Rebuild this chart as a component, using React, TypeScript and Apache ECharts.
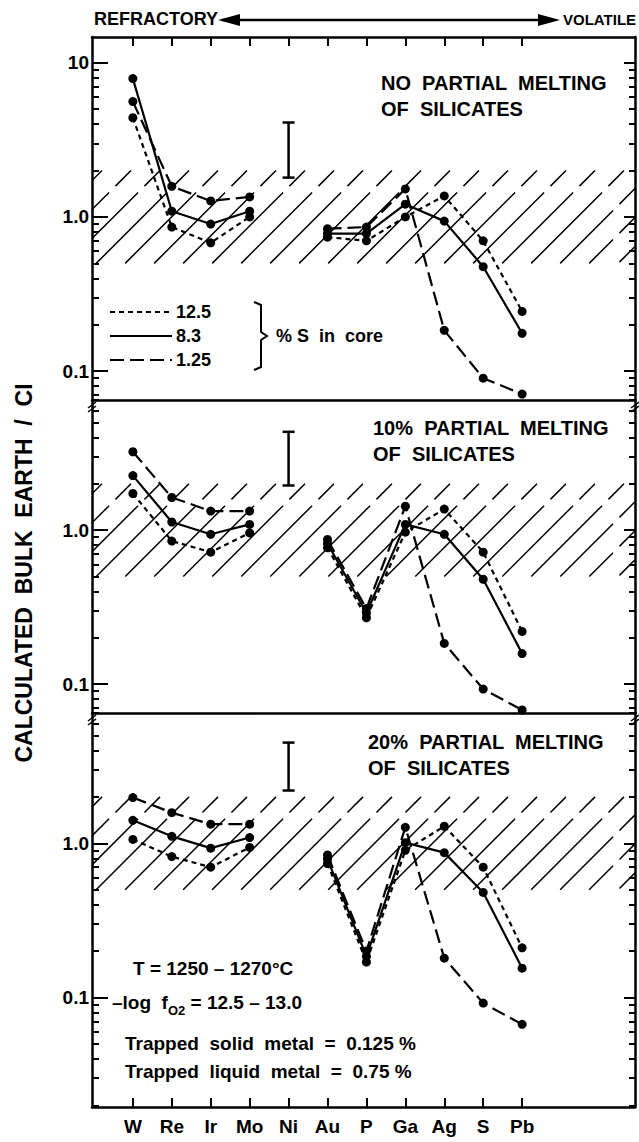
import React, { useEffect, useRef } from "react";
import * as echarts from "echarts";

// ---------- data ----------
const elements = ["W", "Re", "Ir", "Mo", "Ni", "Au", "P", "Ga", "Ag", "S", "Pb"];
const elementPos = [0, 1, 2, 3, 4, 5, 6, 7, 8, 9, 10];
const sulfurLevels = ["12.5", "8.3", "1.25"];

// No partial melting of silicates
const noMelt_S125 = [4.4, 0.86, 0.68, 1.0, null, 0.74, 0.7, 1.0, 1.37, 0.7, 0.244];
const noMelt_S83 = [7.9, 1.09, 0.9, 1.09, null, 0.78, 0.78, 1.21, 0.94, 0.476, 0.176];
const noMelt_S1 = [5.6, 1.58, 1.27, 1.35, null, 0.84, 0.86, 1.52, 0.184, 0.09, 0.071];
// 10% partial melting
const melt10_S125 = [1.73, 0.85, 0.72, 0.96, null, 0.77, 0.27, 0.97, 1.37, 0.72, 0.22];
const melt10_S83 = [2.26, 1.13, 0.94, 1.09, null, 0.82, 0.29, 1.09, 0.94, 0.48, 0.158];
const melt10_S1 = [3.23, 1.63, 1.33, 1.33, null, 0.87, 0.31, 1.43, 0.184, 0.093, 0.068];
// 20% partial melting
const melt20_S125 = [1.06, 0.82, 0.7, 0.94, null, 0.74, 0.17, 0.9, 1.29, 0.7, 0.21];
const melt20_S83 = [1.41, 1.11, 0.93, 1.09, null, 0.79, 0.185, 1.01, 0.87, 0.48, 0.155];
const melt20_S1 = [1.98, 1.58, 1.33, 1.33, null, 0.84, 0.2, 1.27, 0.18, 0.092, 0.067];

// Ni range (error bar) per panel
const niRange = [
  [1.8, 4.1],
  [1.95, 4.35],
  [2.2, 4.5],
];
const chondriticBand = [0.5, 2.0];

const yMajorTicks = [0.1, 1, 10];
const yMinorTicks = [0.02, 0.03, 0.04, 0.05, 0.06, 0.07, 0.08, 0.09, 0.2, 0.3, 0.4, 0.5, 0.6, 0.7, 0.8, 0.9, 2, 3, 4, 5, 6, 7, 8, 9];
const yTickLabels: Record<string, string> = { "0.1": "0.1", "1": "1.0", "10": "10" };

const panelTitles = [
  ["NO  PARTIAL  MELTING", "OF  SILICATES"],
  ["10%  PARTIAL  MELTING", "OF  SILICATES"],
  ["20%  PARTIAL  MELTING", "OF  SILICATES"],
];
const panelSeries = [
  [noMelt_S125, noMelt_S83, noMelt_S1],
  [melt10_S125, melt10_S83, melt10_S1],
  [melt20_S125, melt20_S83, melt20_S1],
];
const panelRanges = [
  [0.065, 14.7],
  [0.065, 7.0],
  [0.0195, 7.0],
];

// ---------- layout ----------
const FONT = "'Liberation Sans', Arial, Helvetica, sans-serif";
const GRID_LEFT = 92;
const GRID_WIDTH = 543;
const PANEL_TOPS = [37, 400, 713];
const PANEL_HEIGHTS = [363, 313, 394];
const X_MIN = -1.05;
const X_MAX = 12.9;
const DASHES: any[] = [[5, 4], "solid", [14, 6]];

function hatchRender(params: any, api: any) {
  const cs = params.coordSys;
  const x0 = cs.x;
  const x1 = cs.x + cs.width;
  const yLo = api.coord([0, api.value(0)])[1];
  const yHi = api.coord([0, api.value(1)])[1];
  const h = yLo - yHi;
  const step = 29;
  const children: any[] = [];
  for (let s = x0 - h + 10; s < x1; s += step) {
    let ax = s, ay = yLo, bx = s + h, by = yHi;
    if (ax < x0) { ay -= x0 - ax; ax = x0; }
    if (bx > x1) { by += bx - x1; bx = x1; }
    if (bx - ax < 3) continue;
    children.push({
      type: "line",
      shape: { x1: bx, y1: by, x2: ax, y2: ay },
      style: { stroke: "#000", lineWidth: 1.5, lineDash: [22, 9, 200] },
    });
  }
  return { type: "group", children };
}

function errorBarRender(params: any, api: any) {
  const lo = api.coord([api.value(0), api.value(1)]);
  const hi = api.coord([api.value(0), api.value(2)]);
  const st = { stroke: "#000", lineWidth: 2.5 };
  return {
    type: "group",
    children: [
      { type: "line", shape: { x1: lo[0], y1: lo[1], x2: hi[0], y2: hi[1] }, style: st },
      { type: "line", shape: { x1: hi[0] - 6, y1: hi[1], x2: hi[0] + 6, y2: hi[1] }, style: st },
      { type: "line", shape: { x1: lo[0] - 6, y1: lo[1], x2: lo[0] + 6, y2: lo[1] }, style: st },
    ],
  };
}

function buildOption() {
  const grid = PANEL_TOPS.map((top, i) => ({
    left: GRID_LEFT,
    width: GRID_WIDTH,
    top,
    height: PANEL_HEIGHTS[i],
  }));

  const axisLine = { show: true, onZero: false, lineStyle: { color: "#000", width: 2.5 } };
  const noLine = { show: false, onZero: false };
  const xAxis: any[] = PANEL_TOPS.map((_, i) => ({
    gridIndex: i,
    type: "value",
    min: X_MIN,
    max: X_MAX,
    position: "bottom",
    axisLine,
    splitLine: { show: false },
    axisTick:
      i === 2
        ? { show: true, inside: true, length: 9, customValues: elementPos, lineStyle: { color: "#000", width: 2 } }
        : { show: false },
    axisLabel:
      i === 2
        ? {
            show: true,
            customValues: elementPos,
            formatter: (v: number) => elements[Math.round(v)] ?? "",
            color: "#000",
            fontFamily: FONT,
            fontWeight: "bold",
            fontSize: 19,
            margin: 10,
          }
        : { show: false },
  }));
  xAxis.push({
    gridIndex: 0,
    type: "value",
    min: X_MIN,
    max: X_MAX,
    position: "top",
    axisLine,
    splitLine: { show: false },
    axisTick: { show: true, inside: true, length: 9, customValues: elementPos, lineStyle: { color: "#000", width: 2 } },
    axisLabel: { show: false },
  });

  const yAxis: any[] = [];
  const yIdx: number[] = [];
  panelRanges.forEach(([mn, mx], i) => {
    const majors = yMajorTicks.filter((v) => v >= mn && v <= mx);
    const minors = yMinorTicks.filter((v) => v >= mn && v <= mx);
    const base = { gridIndex: i, type: "log", logBase: 10, min: mn, max: mx, splitLine: { show: false } };
    yIdx.push(yAxis.length);
    yAxis.push({
      ...base,
      position: "left",
      axisLine,
      axisTick: { show: true, inside: true, length: 16, customValues: majors, lineStyle: { color: "#000", width: 2 } },
      axisLabel: {
        show: true,
        customValues: majors,
        formatter: (v: number) => yTickLabels[String(+v.toPrecision(3))] ?? "",
        color: "#000",
        fontFamily: FONT,
        fontWeight: "bold",
        fontSize: 19,
        margin: 3,
      },
    });
    yAxis.push({
      ...base,
      position: "left",
      axisLine: noLine,
      axisTick: { show: true, inside: true, length: 7, customValues: minors, lineStyle: { color: "#000", width: 2 } },
      axisLabel: { show: false },
    });
    yAxis.push({
      ...base,
      position: "right",
      axisLine,
      axisTick: { show: true, inside: true, length: 6, customValues: minors, lineStyle: { color: "#000", width: 2 } },
      axisLabel: { show: false },
    });
    yAxis.push({
      ...base,
      position: "right",
      axisLine: noLine,
      axisTick: { show: true, inside: true, length: 11, customValues: majors, lineStyle: { color: "#000", width: 2 } },
      axisLabel: { show: false },
    });
  });

  const series: any[] = [];
  panelSeries.forEach((set, i) => {
    series.push({
      type: "custom",
      name: "chondritic band " + i,
      xAxisIndex: i,
      yAxisIndex: yIdx[i],
      renderItem: hatchRender,
      data: [[chondriticBand[0], chondriticBand[1]]],
      encode: { x: 0, y: [0, 1] },
      silent: true,
      z: 1,
    });
    series.push({
      type: "custom",
      name: "Ni range " + i,
      xAxisIndex: i,
      yAxisIndex: yIdx[i],
      renderItem: errorBarRender,
      data: [[elementPos[4], niRange[i][0], niRange[i][1]]],
      encode: { x: 0, y: [1, 2] },
      silent: true,
      z: 2,
    });
    set.forEach((vals, k) => {
      series.push({
        type: "line",
        name: sulfurLevels[k] + " % S in core",
        xAxisIndex: i,
        yAxisIndex: yIdx[i],
        data: vals.map((v, j) => [elementPos[j], v == null ? "-" : v]),
        connectNulls: false,
        symbol: "circle",
        symbolSize: 9,
        itemStyle: { color: "#000" },
        lineStyle: { color: "#000", width: 2.2, type: DASHES[k] },
        z: 3,
      });
    });
  });

  const txt = (text: string, x: number, y: number, size: number, extra: any = {}) => ({
    type: "text",
    x,
    y,
    style: {
      text,
      fill: "#000",
      font: `bold ${size}px ${FONT}`,
      textVerticalAlign: "middle",
      ...extra,
    },
  });

  const graphic: any[] = [];
  // header
  graphic.push(txt("REFRACTORY", 94, 19, 18));
  graphic.push({ type: "line", shape: { x1: 222, y1: 20, x2: 552, y2: 20 }, style: { stroke: "#000", lineWidth: 2.5 } });
  graphic.push({ type: "polygon", shape: { points: [[218, 20], [240, 14], [240, 26]] }, style: { fill: "#000" } });
  graphic.push({ type: "polygon", shape: { points: [[560, 20], [538, 14], [538, 26]] }, style: { fill: "#000" } });
  graphic.push(txt("VOLATILE", 563, 19, 15));
  // y title
  graphic.push({
    type: "text",
    x: 24,
    y: 573,
    rotation: Math.PI / 2,
    style: {
      text: "CALCULATED  BULK  EARTH  /  CI",
      fill: "#000",
      font: `bold 23px ${FONT}`,
      textAlign: "center",
      textVerticalAlign: "middle",
    },
  });
  // panel titles
  const titleY = [83, 428, 742];
  const titleX = [381, 373, 368];
  panelTitles.forEach((t, i) => {
    graphic.push(txt(t[0], titleX[i], titleY[i], 20));
    graphic.push(txt(t[1], titleX[i], titleY[i] + 26, 20));
  });
  // legend (panel 1)
  const legRows = [312, 336, 360];
  sulfurLevels.forEach((lab, k) => {
    const d = DASHES[k];
    graphic.push({
      type: "line",
      shape: { x1: 110, y1: legRows[k], x2: 172, y2: legRows[k] },
      style: { stroke: "#000", lineWidth: 2.2, lineDash: d === "solid" ? null : d },
    });
    graphic.push(txt(lab, 176, legRows[k], 18));
  });
  graphic.push({
    type: "polyline",
    shape: {
      points: [
        [254, legRows[0] - 10],
        [261, legRows[0] - 7],
        [261, legRows[1] - 4],
        [267, legRows[1]],
        [261, legRows[1] + 4],
        [261, legRows[2] + 7],
        [254, legRows[2] + 10],
      ],
    },
    style: { stroke: "#000", lineWidth: 2, fill: null },
  });
  graphic.push(txt("% S  in  core", 276, legRows[1], 18));
  // bottom annotations
  graphic.push(txt("T = 1250 – 1270°C", 133, 968, 19));
  graphic.push({
    type: "text",
    x: 112,
    y: 1004,
    style: {
      text: "{a|–log  f}{s|O2}{a| = 12.5 – 13.0}",
      fill: "#000",
      textVerticalAlign: "middle",
      rich: {
        a: { font: `bold 19px ${FONT}`, fill: "#000", lineHeight: 22, verticalAlign: "top" },
        s: { font: `bold 13px ${FONT}`, fill: "#000", lineHeight: 22, padding: [11, 0, 0, 0], verticalAlign: "top" },
      },
    },
  });
  graphic.push(txt("Trapped  solid  metal  =  0.125 %", 125, 1043, 19));
  graphic.push(txt("Trapped  liquid  metal  =  0.75 %", 125, 1071, 19));
  // axis break marks
  [PANEL_TOPS[1], PANEL_TOPS[2]].forEach((y) => {
    [GRID_LEFT, GRID_LEFT + GRID_WIDTH].forEach((x) => {
      graphic.push({ type: "line", shape: { x1: x - 4, y1: y + 8, x2: x + 4, y2: y + 2 }, style: { stroke: "#000", lineWidth: 1.5 } });
      graphic.push({ type: "line", shape: { x1: x - 4, y1: y + 12, x2: x + 4, y2: y + 6 }, style: { stroke: "#000", lineWidth: 1.5 } });
    });
  });

  return {
    animation: false,
    backgroundColor: "#fff",
    grid,
    xAxis,
    yAxis,
    series,
    graphic,
  };
}

export default function App() {
  const ref = useRef<HTMLDivElement>(null);
  useEffect(() => {
    if (!ref.current) return;
    const chart = echarts.init(ref.current, null, { renderer: "svg" });
    chart.setOption(buildOption() as any);
    return () => chart.dispose();
  }, []);
  return (
    <div
      ref={ref}
      style={{ position: "fixed", left: 0, top: 0, width: 639, height: 1142, background: "#fff" }}
    />
  );
}
